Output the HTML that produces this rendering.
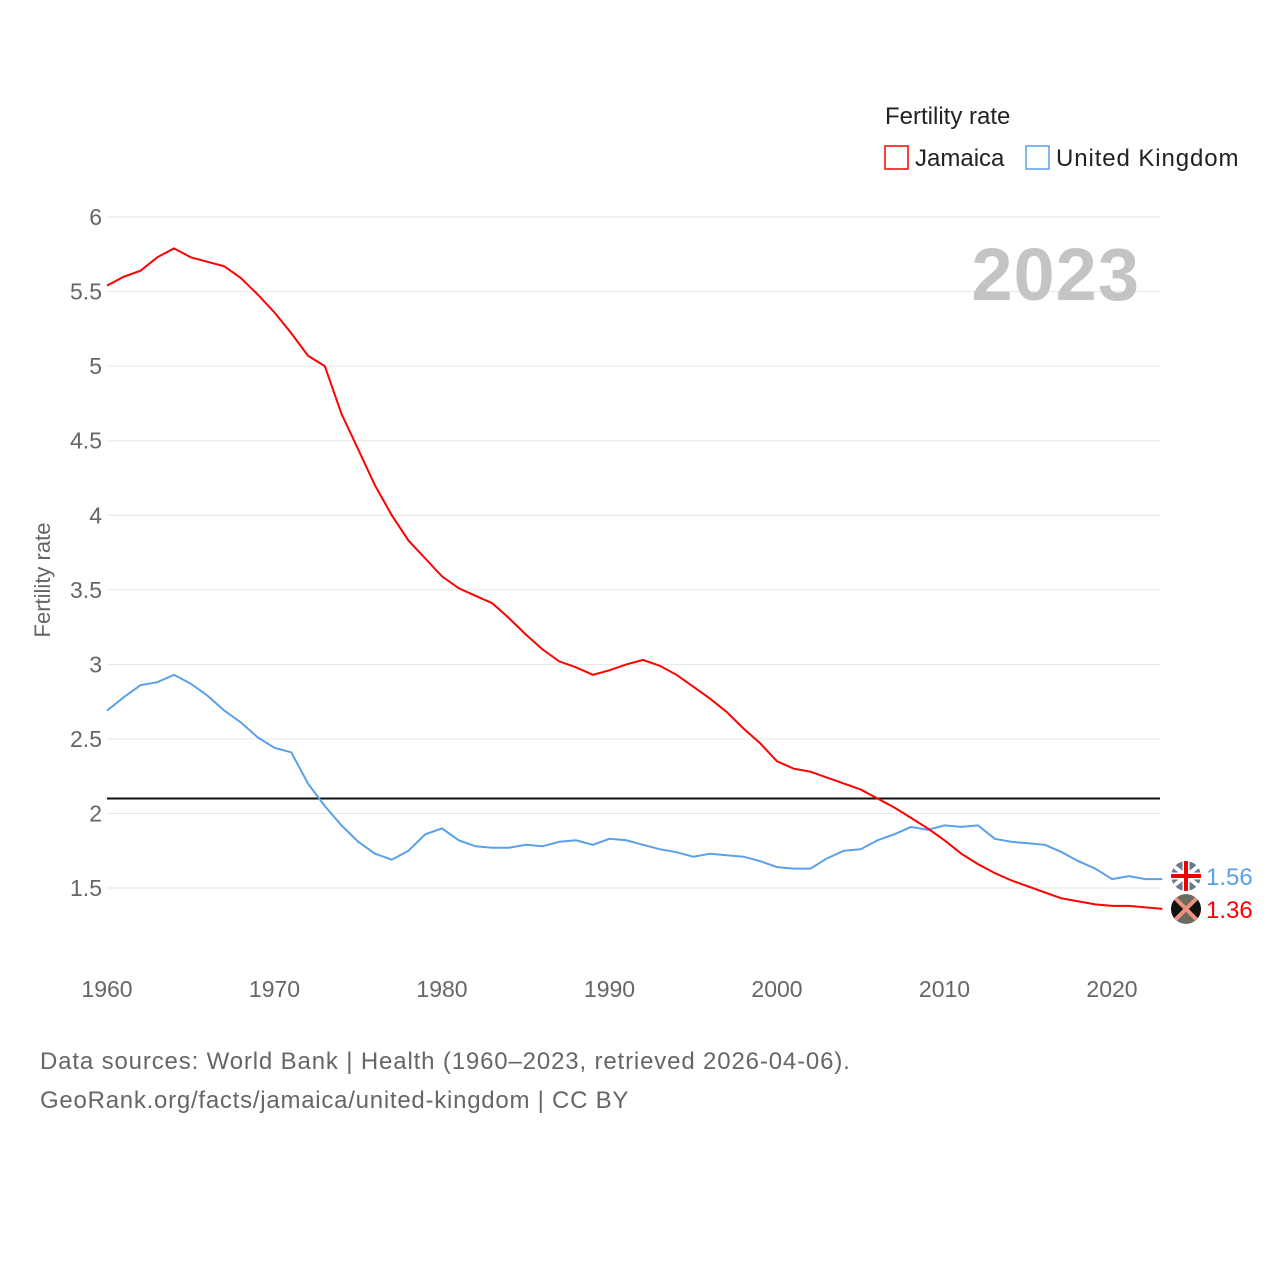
<!DOCTYPE html>
<html><head><meta charset="utf-8"><style>
body{margin:0;background:#fff;font-family:"Liberation Sans",sans-serif}
svg text{font-family:"Liberation Sans",sans-serif}
</style></head><body>
<svg id="c" width="1280" height="1280" xmlns="http://www.w3.org/2000/svg">
<defs><clipPath id="cj"><circle cx="1186" cy="909" r="15"/></clipPath><clipPath id="cu"><circle cx="1186" cy="876" r="15"/></clipPath></defs>
<g id="grid"></g>
<g id="ticks"></g>
<text x="1140" y="300" text-anchor="end" font-size="74" font-weight="bold" fill="#c4c4c4" letter-spacing="1">2023</text>
<text transform="translate(50,580) rotate(-90)" text-anchor="middle" font-size="22" fill="#666">Fertility rate</text>
<text x="885" y="124" font-size="24" fill="#222">Fertility rate</text>
<g><rect x="885" y="146" width="23" height="23" fill="none" stroke="#f00" stroke-width="1.5"/><text x="915" y="166" font-size="24" fill="#222">Jamaica</text></g>
<g><rect x="1026" y="146" width="23" height="23" fill="none" stroke="#5aa0ea" stroke-width="1.5"/><text x="1056" y="166" font-size="24" fill="#222" letter-spacing="0.9">United Kingdom</text></g>
<g id="series"></g>
<text x="40" y="1069" font-size="24" fill="#666" letter-spacing="0.85">Data sources: World Bank | Health (1960–2023, retrieved 2026-04-06).</text>
<text x="40" y="1108" font-size="24" fill="#666" letter-spacing="0.75">GeoRank.org/facts/jamaica/united-kingdom | CC BY</text>
</svg>
<script>
const years=[];for(let y=1960;y<=2023;y++)years.push(y);
const jamaica=[5.54,5.60,5.64,5.73,5.79,5.73,5.70,5.67,5.59,5.48,5.36,5.22,5.07,5.00,4.68,4.44,4.20,4.00,3.83,3.71,3.59,3.51,3.46,3.41,3.31,3.20,3.10,3.02,2.98,2.93,2.96,3.00,3.03,2.99,2.93,2.85,2.77,2.68,2.57,2.47,2.35,2.30,2.28,2.24,2.20,2.16,2.10,2.04,1.97,1.90,1.82,1.73,1.66,1.60,1.55,1.51,1.47,1.43,1.41,1.39,1.38,1.38,1.37,1.36];
const uk=[2.69,2.78,2.86,2.88,2.93,2.87,2.79,2.69,2.61,2.51,2.44,2.41,2.20,2.05,1.92,1.81,1.73,1.69,1.75,1.86,1.90,1.82,1.78,1.77,1.77,1.79,1.78,1.81,1.82,1.79,1.83,1.82,1.79,1.76,1.74,1.71,1.73,1.72,1.71,1.68,1.64,1.63,1.63,1.70,1.75,1.76,1.82,1.86,1.91,1.89,1.92,1.91,1.92,1.83,1.81,1.80,1.79,1.74,1.68,1.63,1.56,1.58,1.56,1.56];
const yTicks=[1.5,2,2.5,3,3.5,4,4.5,5,5.5,6];
const yTickLabels=["1.5","2","2.5","3","3.5","4","4.5","5","5.5","6"];
const xTicks=[1960,1970,1980,1990,2000,2010,2020];
const replacement=2.1;
const X=v=>107+(v-1960)*16.75;
const Y=v=>888-(v-1.5)*149.1;
const NS="http://www.w3.org/2000/svg";
function mk(t,a,p){const e=document.createElementNS(NS,t);for(const k in a)e.setAttribute(k,a[k]);p.appendChild(e);return e;}
const grid=document.getElementById('grid'),ticks=document.getElementById('ticks'),ser=document.getElementById('series');
yTicks.forEach((v,i)=>{
 const l=mk('line',{x1:107,x2:1160,y1:Y(v),y2:Y(v),stroke:'#e6e6e6','stroke-width':1},grid);
 
 
 const t=mk('text',{x:102,y:Y(v)+8,'text-anchor':'end','font-size':23,fill:'#666'},ticks);
 t.textContent=yTickLabels[i];
 
 
});
xTicks.forEach(v=>{
 const t=mk('text',{x:X(v),y:997,'text-anchor':'middle','font-size':23,fill:'#666'},ticks);
 t.textContent=v;
 
 
});
const rl=mk('line',{x1:107,x2:1160,y1:Y(replacement),y2:Y(replacement),stroke:'#111','stroke-width':2},ser);


function line(d,c,n){
 const p=mk('path',{d:d.map((v,i)=>(i?'L':'M')+X(years[i]).toFixed(1)+','+Y(v).toFixed(1)).join(''),fill:'none',stroke:c,'stroke-width':2},ser);
 
 
}
line(uk,'#5aa0ea','united-kingdom-line');
line(jamaica,'#f00','jamaica-line');
const lu=uk[uk.length-1],lj=jamaica[jamaica.length-1];
const gu=mk('g',{'clip-path':'url(#cu)'},ser);


const cyU=876;
mk('circle',{cx:1186,cy:cyU,r:15,fill:'#6a7a8c'},gu);
mk('path',{d:`M1171 ${cyU-12}L1201 ${cyU+12}M1171 ${cyU+12}L1201 ${cyU-12}`,stroke:'#fff','stroke-width':4},gu);
mk('path',{d:`M1171 ${cyU}H1201M1186 ${cyU-15}V${cyU+15}`,stroke:'#fff','stroke-width':7},gu);
mk('path',{d:`M1171 ${cyU}H1201M1186 ${cyU-15}V${cyU+15}`,stroke:'#e00','stroke-width':4},gu);
const tu=mk('text',{x:1206,y:cyU+9,'font-size':24,fill:'#5aa0ea'},ser);
tu.textContent=lu.toFixed(2);


const gj=mk('g',{'clip-path':'url(#cj)'},ser);


const cyJ=909;
mk('circle',{cx:1186,cy:cyJ,r:15,fill:'#6b6b60'},gj);
mk('path',{d:`M1170 ${cyJ-13}L1186 ${cyJ}L1170 ${cyJ+13}ZM1202 ${cyJ-13}L1186 ${cyJ}L1202 ${cyJ+13}Z`,fill:'#111'},gj);
mk('path',{d:`M1174 ${cyJ-12}L1198 ${cyJ+12}M1174 ${cyJ+12}L1198 ${cyJ-12}`,stroke:'#f09080','stroke-width':4},gj);
const tj=mk('text',{x:1206,y:cyJ+9,'font-size':24,fill:'#f00'},ser);
tj.textContent=lj.toFixed(2);


</script>
</body></html>
